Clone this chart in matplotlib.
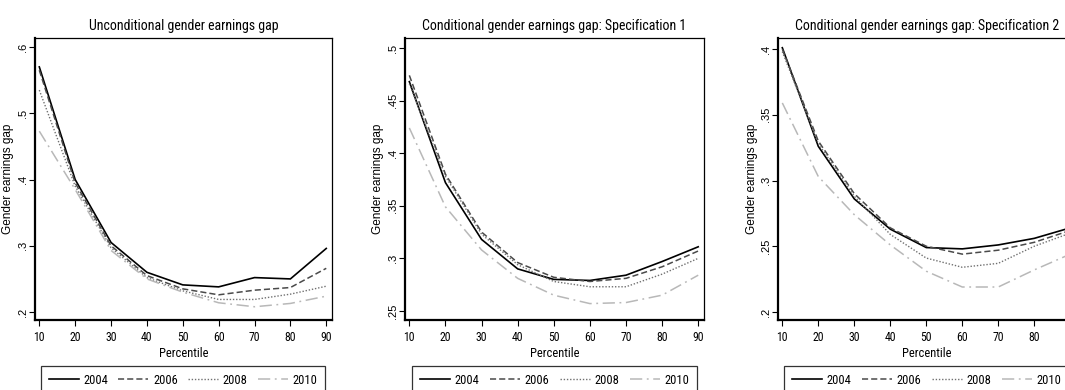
import matplotlib
matplotlib.use("Agg")
import matplotlib.pyplot as plt
from matplotlib import font_manager
from matplotlib.lines import Line2D

# ================= data =================
percentiles = [10, 20, 30, 40, 50, 60, 70, 80, 90]
years = ["2004", "2006", "2008", "2010"]

titles = ["Unconditional gender earnings gap",
          "Conditional gender earnings gap: Specification 1",
          "Conditional gender earnings gap: Specification 2"]

gap_uncond = {
    "2004": [0.570, 0.400, 0.305, 0.260, 0.241, 0.238, 0.252, 0.250, 0.296],
    "2006": [0.565, 0.395, 0.300, 0.255, 0.235, 0.226, 0.233, 0.237, 0.266],
    "2008": [0.535, 0.390, 0.297, 0.252, 0.232, 0.219, 0.219, 0.227, 0.239],
    "2010": [0.473, 0.385, 0.293, 0.250, 0.230, 0.214, 0.208, 0.213, 0.224],
}
gap_spec1 = {
    "2004": [0.468, 0.372, 0.318, 0.290, 0.280, 0.279, 0.284, 0.297, 0.311],
    "2006": [0.474, 0.380, 0.325, 0.296, 0.282, 0.278, 0.281, 0.292, 0.307],
    "2008": [0.466, 0.378, 0.323, 0.294, 0.278, 0.273, 0.273, 0.285, 0.300],
    "2010": [0.424, 0.349, 0.308, 0.281, 0.265, 0.257, 0.258, 0.265, 0.284],
}
gap_spec2 = {
    "2004": [0.401, 0.326, 0.286, 0.263, 0.249, 0.248, 0.251, 0.256, 0.264],
    "2006": [0.400, 0.330, 0.290, 0.264, 0.250, 0.244, 0.247, 0.253, 0.262],
    "2008": [0.398, 0.328, 0.288, 0.259, 0.241, 0.234, 0.237, 0.250, 0.260],
    "2010": [0.359, 0.303, 0.274, 0.251, 0.231, 0.219, 0.219, 0.232, 0.244],
}
panels = [gap_uncond, gap_spec1, gap_spec2]

yticks = [[0.2, 0.3, 0.4, 0.5, 0.6],
          [0.25, 0.3, 0.35, 0.4, 0.45, 0.5],
          [0.2, 0.25, 0.3, 0.35, 0.4]]
ylims = [(0.188, 0.6136), (0.2414, 0.5095), (0.1939, 0.4084)]

# ================= styles =================
styles = {
    "2004": dict(color="black", linestyle="-", lw=1.2),
    "2006": dict(color="#4a4a4a", linestyle=(0, (4, 2)), lw=1.1),
    "2008": dict(color="#707070", linestyle=(0, (1, 1.3)), lw=1.0),
    "2010": dict(color="#b8b8b8", linestyle=(0, (8, 3, 1.2, 3)), lw=1.1),
}

names = {f.name for f in font_manager.fontManager.ttflist}
narrow = "Roboto Condensed" if "Roboto Condensed" in names else "Liberation Sans"
plt.rcParams["font.family"] = narrow

W, H = 1065, 390
fig = plt.figure(figsize=(W / 100, H / 100), dpi=100)

# pixel boxes of the plot regions: left, right, top, bottom
boxes = [(35, 332, 38, 320), (405, 704, 38, 320), (778, 1076, 38, 320)]
legend_boxes = [(41, 325), (412, 697), (784, 1069)]


def fmt(v):
    s = f"{v:g}"
    return s[1:] if s.startswith("0") else s


for k, data in enumerate(panels):
    l, r, t, b = boxes[k]
    ax = fig.add_axes([l / W, 1 - b / H, (r - l) / W, (b - t) / H])
    for y in years:
        ax.plot(percentiles, data[y], **styles[y], solid_joinstyle="miter")
    ax.set_xlim(8.8, 91.6)
    ax.set_ylim(*ylims[k])
    ax.set_xticks(percentiles)
    # the last panel runs past the right edge, so its 90 label is left off
    xlabels = [str(p) for p in percentiles]
    if r > W:
        xlabels[-1] = ""
    ax.set_xticklabels(xlabels)
    ax.set_yticks(yticks[k])
    ax.set_yticklabels([fmt(v) for v in yticks[k]], rotation=90, va="center",
                       family="Liberation Sans")
    ax.tick_params(axis="both", direction="out", length=4, width=0.8, labelsize=8, pad=1)
    ax.tick_params(axis="x", labelsize=8.5, pad=4)
    for side in ["left", "bottom"]:
        ax.spines[side].set_linewidth(1.6)
    for side in ["top", "right"]:
        ax.spines[side].set_linewidth(0.9)
    ax.set_title(titles[k], fontsize=10, pad=6)
    ax.set_xlabel("Percentile", fontsize=9, labelpad=2)
    ax.set_ylabel("Gender earnings gap", fontsize=8.5, family="Liberation Sans")
    ax.yaxis.set_label_coords(-20.5 / (r - l), 0.5)

    handles = [Line2D([], [], **styles[y]) for y in years]
    x0, x1 = legend_boxes[k]
    leg = fig.legend(handles, years, loc="upper left", ncol=4, mode="expand",
                     bbox_to_anchor=(x0 / W, 1 - 370 / H, (x1 - x0) / W, 0.01),
                     bbox_transform=fig.transFigure, borderaxespad=0, borderpad=0.6,
                     handlelength=2.4, handletextpad=0.4, fontsize=9, fancybox=False,
                     frameon=True, edgecolor="black")
    leg.get_frame().set_linewidth(0.9)

fig.savefig("out.png", dpi=100)
